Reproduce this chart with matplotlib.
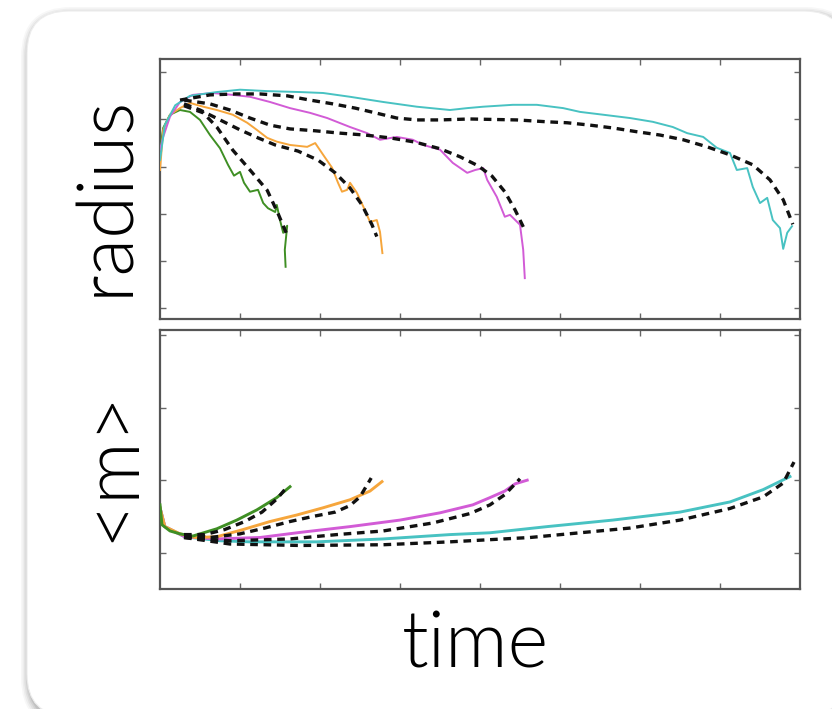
import numpy as np
import matplotlib
matplotlib.use("Agg")
import matplotlib.pyplot as plt
from matplotlib import font_manager
from matplotlib.patches import FancyBboxPatch

# ---------------- data (time in tick units, values in tick units) ----------------
# top panel: radius
green_r_t = [0, 0.04, 0.125, 0.25, 0.375, 0.5, 0.625, 0.75, 0.85, 0.925, 1.0, 1.05, 1.125,
             1.225, 1.29, 1.35, 1.44, 1.46, 1.5, 1.54, 1.59, 1.56, 1.57]
green_r_v = [3.36, 3.82, 4.1, 4.2, 4.16, 3.99, 3.67, 3.39, 3.04, 2.81, 2.89, 2.66, 2.47,
             2.51, 2.23, 2.12, 2.04, 2.19, 1.87, 1.6, 1.75, 1.24, 0.88]
green_rfit_t = [0.3, 0.54, 0.71, 0.91, 1.125, 1.34, 1.475, 1.59]
green_rfit_v = [4.29, 4.14, 3.84, 3.35, 2.93, 2.5, 2.01, 1.55]

orange_r_t = [0, 0.04, 0.125, 0.25, 0.375, 0.54, 0.71, 0.91, 1.09, 1.21, 1.34, 1.46, 1.625,
              1.84, 1.94, 2.04, 2.15, 2.225, 2.275, 2.34, 2.375, 2.46, 2.54, 2.625, 2.71,
              2.75, 2.78]
orange_r_v = [2.93, 3.78, 4.1, 4.24, 4.35, 4.27, 4.2, 4.1, 3.93, 3.78, 3.61, 3.53, 3.46,
              3.42, 3.5, 3.25, 2.98, 2.66, 2.47, 2.51, 2.66, 2.45, 2.16, 1.83, 1.87,
              1.62, 1.17]
orange_rfit_t = [0.3, 0.5, 0.75, 1.0, 1.225, 1.44, 1.725, 1.975, 2.19, 2.375, 2.525, 2.65, 2.71]
orange_rfit_v = [4.33, 4.2, 3.99, 3.78, 3.61, 3.46, 3.33, 3.14, 2.87, 2.55, 2.19, 1.77, 1.52]

magenta_r_t = [0, 0.04, 0.125, 0.25, 0.41, 0.66, 0.91, 1.125, 1.375, 1.625, 1.875, 2.09,
               2.375, 2.59, 2.75, 2.96, 3.16, 3.29, 3.5, 3.66, 3.84, 3.94, 4.04, 4.09,
               4.21, 4.31, 4.375, 4.5, 4.54, 4.56]
magenta_r_v = [3.36, 3.63, 4.06, 4.37, 4.52, 4.56, 4.52, 4.48, 4.37, 4.24, 4.14, 4.03,
               3.84, 3.71, 3.57, 3.63, 3.57, 3.46, 3.36, 3.08, 2.87, 2.93, 2.97, 2.72,
               2.36, 1.94, 1.98, 1.77, 1.24, 0.64]
magenta_rfit_t = [0.3, 0.625, 0.875, 1.125, 1.375, 1.625, 1.94, 2.25, 2.56, 2.875, 3.19,
                  3.5, 3.75, 3.975, 4.15, 4.31, 4.44, 4.56]
magenta_rfit_v = [4.41, 4.33, 4.2, 4.03, 3.88, 3.8, 3.76, 3.71, 3.67, 3.61, 3.52,
                  3.38, 3.21, 3.02, 2.8, 2.47, 2.08, 1.66]

cyan_r_t = [0, 0.06, 0.19, 0.375, 0.71, 1.0, 1.34, 1.75, 2.04, 2.375, 2.79, 3.21, 3.625,
            3.84, 4.04, 4.41, 4.71, 5.04, 5.25, 5.54, 5.875, 6.16, 6.41, 6.59, 6.79,
            6.96, 7.125, 7.21, 7.34, 7.41, 7.5, 7.59, 7.66, 7.75, 7.79, 7.84, 7.9]
cyan_r_v = [3.14, 3.88, 4.3, 4.5, 4.58, 4.63, 4.6, 4.58, 4.56, 4.48, 4.37, 4.27, 4.2,
            4.24, 4.27, 4.31, 4.31, 4.24, 4.16, 4.1, 4.03, 3.95, 3.84, 3.71, 3.63,
            3.4, 3.29, 2.93, 2.97, 2.57, 2.23, 2.34, 1.87, 1.7, 1.26, 1.6, 1.74]
cyan_rfit_t = [0.25, 0.625, 0.94, 1.25, 1.59, 1.875, 2.16, 2.44, 2.69, 2.96, 3.21, 3.5,
               3.875, 4.46, 4.84, 5.09, 5.375, 5.66, 5.96, 6.25, 6.54, 6.84, 7.125,
               7.41, 7.625, 7.79, 7.91]
cyan_rfit_v = [4.41, 4.52, 4.54, 4.54, 4.5, 4.41, 4.33, 4.24, 4.14, 4.03, 3.99, 3.99,
               4.01, 3.99, 3.95, 3.93, 3.88, 3.82, 3.74, 3.67, 3.57, 3.42, 3.25,
               3.04, 2.72, 2.3, 1.78]

# bottom panel: <m>
green_m_t = [0, 0.025, 0.125, 0.25, 0.41, 0.56, 0.71, 0.96, 1.21, 1.46, 1.625]
green_m_v = [1.66, 1.385, 1.30, 1.26, 1.23, 1.28, 1.33, 1.45, 1.59, 1.76, 1.91]
green_mfit_t = [0.3, 0.56, 0.81, 1.06, 1.275, 1.46, 1.56]
green_mfit_v = [1.25, 1.25, 1.32, 1.43, 1.56, 1.74, 1.87]

orange_m_t = [0, 0.06, 0.25, 0.44, 0.71, 1.04, 1.375, 1.71, 2.04, 2.375, 2.625, 2.775]
orange_m_v = [1.62, 1.36, 1.26, 1.21, 1.22, 1.32, 1.43, 1.52, 1.62, 1.73, 1.85, 1.98]
orange_mfit_t = [0.3, 0.625, 1.0, 1.31, 1.625, 1.91, 2.19, 2.375, 2.5, 2.575, 2.64]
orange_mfit_v = [1.22, 1.21, 1.26, 1.34, 1.43, 1.5, 1.56, 1.65, 1.77, 1.91, 2.03]

magenta_m_t = [0, 0.06, 0.31, 0.71, 1.25, 1.75, 2.375, 3.0, 3.5, 3.91, 4.125, 4.31, 4.44, 4.59]
magenta_m_v = [1.62, 1.36, 1.22, 1.19, 1.21, 1.28, 1.36, 1.45, 1.55, 1.66, 1.76, 1.85, 1.95, 2.0]
magenta_mfit_t = [0.3, 0.875, 1.625, 2.21, 2.79, 3.41, 3.875, 4.125, 4.31, 4.5]
magenta_mfit_v = [1.21, 1.165, 1.19, 1.25, 1.30, 1.41, 1.54, 1.66, 1.80, 2.02]

cyan_m_t = [0, 0.06, 0.31, 0.75, 1.125, 1.96, 2.79, 3.625, 4.125, 4.84, 5.66, 6.5, 7.125,
            7.54, 7.875]
cyan_m_v = [1.62, 1.36, 1.22, 1.165, 1.15, 1.15, 1.19, 1.25, 1.275, 1.36, 1.45, 1.56, 1.70,
            1.87, 2.05]
cyan_mfit_t = [0.3, 0.875, 1.75, 2.79, 3.625, 4.625, 5.25, 5.875, 6.5, 7.125, 7.54, 7.79, 7.925]
cyan_mfit_v = [1.21, 1.12, 1.10, 1.11, 1.15, 1.21, 1.275, 1.34, 1.45, 1.61, 1.77, 1.96, 2.25]

x_ticks = [1, 2, 3, 4, 5, 6, 7]
r_ticks = [0, 1, 2, 3, 4, 5]
m_ticks = [1, 2, 3, 4]

# ---------------- font selection ----------------
def _wval(w):
    try:
        return int(w)
    except Exception:
        return {"ultralight": 200, "light": 300, "normal": 400, "regular": 400,
                "book": 400, "medium": 500}.get(str(w).lower(), 400)

def pick_font():
    avail = {}
    for f in font_manager.fontManager.ttflist:
        if f.style != "normal":
            continue
        avail.setdefault(f.name, set()).add(_wval(f.weight))
    for fam in ["Lato", "Open Sans", "Roboto", "Inter", "Noto Sans"]:
        if fam in avail and 300 in avail[fam]:
            return fam, 300
    return "Liberation Sans", 400

FAM, WGT = pick_font()

# ---------------- figure ----------------
W, H, DPI = 832, 709, 100
fig = plt.figure(figsize=(W / DPI, H / DPI), dpi=DPI)
fig.patch.set_facecolor("white")

def px_box(x0, y0_top, x1, y1_top):
    return x0 / DPI, (H - y1_top) / DPI, (x1 - x0) / DPI, (y1_top - y0_top) / DPI

# soft shadow around the rounded frame
bx, by, bw, bh = px_box(27, 11, 846, 716)
for i, a in enumerate([0.03, 0.04, 0.05, 0.06, 0.08]):
    g = (5 - i) * 1.6 / DPI
    sh = FancyBboxPatch((bx - g + 0.02, by - g - 0.04), bw + 2 * g, bh + 2 * g,
                        boxstyle="round,pad=0,rounding_size=%f" % (0.42 + g),
                        transform=fig.dpi_scale_trans, facecolor="black", edgecolor="none",
                        alpha=a, zorder=0)
    fig.patches.append(sh)
frame = FancyBboxPatch((bx, by), bw, bh, boxstyle="round,pad=0,rounding_size=0.42",
                       transform=fig.dpi_scale_trans, facecolor="white",
                       edgecolor="#ededed", linewidth=0.8, zorder=1)
fig.patches.append(frame)

ax1 = fig.add_axes([160 / W, 1 - 319 / H, 640 / W, 260 / H])
ax2 = fig.add_axes([160 / W, 1 - 589 / H, 640 / W, 259 / H])

c_green, c_orange, c_mag, c_cyan = "#3f8f24", "#f6a63c", "#d25bd6", "#48c2c2"
dash_kw = dict(color="#111111", lw=2.4, dashes=(2.3, 1.7), solid_capstyle="butt",
               dash_capstyle="butt", zorder=5)

for t, v, c in [(green_r_t, green_r_v, c_green), (orange_r_t, orange_r_v, c_orange),
                (magenta_r_t, magenta_r_v, c_mag), (cyan_r_t, cyan_r_v, c_cyan)]:
    ax1.plot(t, v, color=c, lw=1.4, zorder=3)
for t, v in [(green_rfit_t, green_rfit_v), (orange_rfit_t, orange_rfit_v),
             (magenta_rfit_t, magenta_rfit_v), (cyan_rfit_t, cyan_rfit_v)]:
    ax1.plot(t, v, **dash_kw)

for t, v, c in [(cyan_m_t, cyan_m_v, c_cyan), (magenta_m_t, magenta_m_v, c_mag),
                (orange_m_t, orange_m_v, c_orange), (green_m_t, green_m_v, c_green)]:
    ax2.plot(t, v, color=c, lw=2.1, zorder=3)
for t, v in [(green_mfit_t, green_mfit_v), (orange_mfit_t, orange_mfit_v),
             (magenta_mfit_t, magenta_mfit_v), (cyan_mfit_t, cyan_mfit_v)]:
    ax2.plot(t, v, **dash_kw)

ax1.set_xlim(0, 8)
ax1.set_ylim(-0.225, 5.28)
ax2.set_xlim(0, 8)
ax2.set_ylim(0.5, 4.07)
ax1.set_yticks(r_ticks)
ax2.set_yticks(m_ticks)
for ax in (ax1, ax2):
    ax.set_xticks(x_ticks)
    ax.tick_params(direction="in", length=4.5, width=1.0, color="#666666",
                   top=True, right=True, labelbottom=False, labelleft=False)
    for s in ax.spines.values():
        s.set_color("#555555")
        s.set_linewidth(1.6)
    ax.set_facecolor("white")
    ax.set_zorder(2)

fs = 56
fig.text(128 / W, 1 - 195 / H, "radius", rotation=90, rotation_mode="anchor",
         ha="center", va="baseline", fontsize=fs, family=FAM, weight=WGT)
fig.text(133 / W, 1 - 466 / H, "<m>", rotation=90, rotation_mode="anchor",
         ha="center", va="baseline", fontsize=fs, family=FAM, weight=WGT)
fig.text(475 / W, 1 - 667 / H, "time", ha="center", va="baseline",
         fontsize=fs, family=FAM, weight=WGT)

fig.savefig("out.png", dpi=DPI)
